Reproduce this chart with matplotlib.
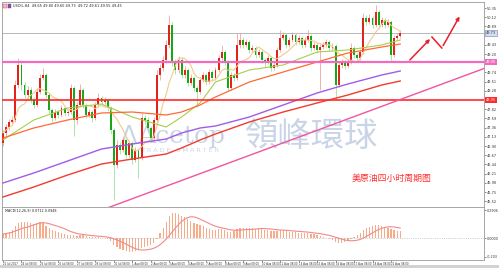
import numpy as np
import pandas as pd
import matplotlib
matplotlib.use("Agg")
import matplotlib.pyplot as plt
from matplotlib.patches import Rectangle

plt.rcParams['font.family'] = ['DejaVu Sans', 'Noto Sans CJK SC']

# USOIL H4 candles (price)
opens = [46.975, 47.225, 47.375, 47.50, 47.55, 48.425, 48.925, 48.425, 48.175, 48.30,
         48.05, 47.925, 48.25, 48.60, 48.675, 48.175, 47.80, 47.60, 47.75, 47.675,
         47.85, 47.725, 47.75, 48.35, 47.55, 47.925, 48.30, 47.925, 47.675, 47.75,
         47.60, 47.925, 48.10, 48.00, 48.05, 47.85, 47.30, 46.425, 46.925, 46.80,
         47.05, 46.675, 46.975, 46.55, 46.80, 46.60, 47.60, 47.55, 47.35, 47.10,
         47.55, 48.675, 48.85, 49.05, 49.425, 49.925, 49.00, 48.80, 49.05, 48.675,
         48.80, 48.475, 48.60, 48.35, 48.25, 48.55, 48.675, 48.50, 48.75, 48.60,
         48.80, 49.10, 49.25, 49.00, 48.35, 48.675, 48.60, 49.425, 49.55, 49.425,
         49.50, 49.30, 49.35, 49.175, 49.25, 49.05, 49.00, 49.10, 48.85, 48.925,
         49.30, 49.60, 49.675, 49.425, 49.55, 49.675, 49.50, 49.60, 49.425, 49.55,
         49.65, 49.35, 49.425, 49.30, 49.375, 49.425, 49.50, 49.35, 49.40, 48.425,
         48.925, 49.00, 48.90, 49.00, 49.35, 49.175, 49.10, 49.25, 50.10, 50.00,
         50.10, 49.925, 50.25, 49.925, 50.05, 49.925, 50.00, 49.175, 49.60, 49.65]
closes = [47.225, 47.375, 47.50, 47.55, 48.425, 48.925, 48.425, 48.175, 48.30, 48.05,
          47.925, 48.25, 48.60, 48.675, 48.175, 47.80, 47.60, 47.75, 47.675, 47.85,
          47.725, 47.75, 48.35, 47.55, 47.925, 48.30, 47.925, 47.675, 47.75, 47.60,
          47.925, 48.10, 48.00, 48.05, 47.85, 47.30, 46.425, 46.925, 46.80, 47.05,
          46.675, 46.975, 46.55, 46.80, 46.60, 47.60, 47.55, 47.35, 47.10, 47.55,
          48.675, 48.85, 49.05, 49.425, 49.925, 49.00, 48.80, 49.05, 48.675, 48.80,
          48.475, 48.60, 48.35, 48.25, 48.55, 48.675, 48.50, 48.75, 48.60, 48.80,
          49.10, 49.25, 49.00, 48.35, 48.675, 48.60, 49.425, 49.55, 49.425, 49.50,
          49.30, 49.35, 49.175, 49.25, 49.05, 49.00, 49.10, 48.85, 48.925, 49.30,
          49.60, 49.675, 49.425, 49.55, 49.675, 49.50, 49.60, 49.425, 49.55, 49.65,
          49.35, 49.425, 49.30, 49.375, 49.425, 49.50, 49.35, 49.40, 48.425, 48.925,
          49.00, 48.90, 49.00, 49.35, 49.175, 49.10, 49.25, 50.10, 50.00, 50.10,
          49.925, 50.25, 49.925, 50.05, 49.925, 50.00, 49.175, 49.60, 49.65, 49.725]
highs = [47.30, 47.45, 47.58, 47.65, 48.55, 49.10, 49.05, 48.50, 48.40, 48.38,
         48.12, 48.35, 48.70, 48.85, 48.72, 48.22, 47.85, 47.82, 47.80, 47.92,
         47.90, 47.82, 48.45, 48.40, 48.00, 48.45, 48.35, 47.98, 47.82, 47.80,
         48.00, 48.22, 48.15, 48.12, 48.10, 47.90, 47.35, 47.05, 47.00, 47.12,
         47.10, 47.05, 47.02, 46.88, 46.85, 47.72, 47.68, 47.62, 47.40, 47.62,
         48.80, 48.95, 49.15, 49.55, 50.175, 50.00, 49.08, 49.15, 49.12, 48.90,
         48.85, 48.70, 48.65, 48.40, 48.62, 48.75, 48.72, 48.82, 48.80, 48.88,
         49.18, 49.425, 49.30, 49.05, 48.75, 48.72, 49.72, 49.72, 49.62, 49.58,
         49.55, 49.42, 49.40, 49.32, 49.30, 49.10, 49.18, 49.15, 49.00, 49.38,
         49.80, 49.75, 49.72, 49.62, 49.75, 49.72, 49.68, 49.65, 49.62, 49.80,
         49.70, 49.50, 49.48, 49.45, 49.50, 49.58, 49.55, 49.48, 49.45, 49.00,
         49.08, 49.05, 49.08, 49.48, 49.40, 49.22, 49.32, 50.225, 50.18, 50.20,
         50.15, 50.425, 50.30, 50.12, 50.10, 50.08, 50.05, 49.68, 49.72, 49.80]
lows = [46.90, 47.15, 47.30, 47.42, 47.50, 48.35, 48.30, 48.10, 48.10, 47.98,
        47.85, 47.88, 48.20, 48.55, 48.10, 47.72, 47.50, 47.55, 47.60, 47.62,
        47.65, 47.65, 47.70, 47.15, 47.45, 47.88, 47.85, 47.60, 47.62, 47.50,
        47.55, 47.88, 47.95, 47.95, 47.78, 47.20, 45.55, 46.35, 46.70, 46.75,
        46.60, 46.62, 46.45, 46.50, 46.10, 46.55, 47.45, 47.28, 47.02, 47.05,
        47.50, 48.55, 48.78, 48.98, 49.35, 48.90, 48.70, 48.72, 48.60, 48.60,
        48.40, 48.42, 48.28, 47.875, 48.20, 48.50, 48.42, 48.45, 48.52, 48.55,
        48.75, 49.05, 48.92, 48.28, 48.30, 48.52, 48.55, 49.35, 49.35, 49.38,
        49.22, 49.25, 49.10, 49.12, 48.98, 48.88, 48.95, 48.78, 48.80, 48.88,
        49.25, 49.55, 49.35, 49.38, 49.50, 49.42, 49.45, 49.35, 49.38, 49.50,
        49.28, 49.30, 49.22, 48.30, 49.32, 49.38, 49.28, 49.30, 48.05, 48.38,
        48.85, 48.82, 48.85, 48.95, 49.10, 49.02, 49.05, 49.20, 49.92, 49.95,
        49.85, 49.88, 49.85, 49.88, 49.85, 49.88, 49.00, 49.12, 49.55, 49.60]

# moving averages read at a few bars
ma_bars = [0, 10, 21, 32, 42, 53, 58, 64, 69, 80, 91, 102, 112, 123, 129]
ma_green = [47.05, 47.55, 47.85, 47.95, 47.625, 47.375, 47.625, 47.975, 48.50, 48.80,
            48.925, 49.25, 49.30, 49.425, 49.55]
ma_orange = [47.10, 47.35, 47.55, 47.725, 47.75, 47.675, 47.75, 47.925, 48.125, 48.50,
             48.75, 49.00, 49.225, 49.375, 49.45]
ma_purple = [45.975, 46.225, 46.525, 46.825, 46.95, 47.075, 47.225, 47.35, 47.40, 47.625,
             47.925, 48.225, 48.45, 48.675, 48.775]
ma_red = [45.625, 45.875, 46.175, 46.45, 46.575, 46.70, 46.85, 47.05, 47.20, 47.50,
          47.75, 47.975, 48.175, 48.425, 48.525]

# MACD main (histogram)
macd_hist = [0.04, 0.05, 0.06, 0.08,
             0.12, 0.15, 0.16, 0.16, 0.16, 0.15, 0.14, 0.15, 0.16, 0.15,
             0.12, 0.10, 0.08, 0.07, 0.06, 0.05, 0.04, 0.03, 0.03, 0.03,
             0.02, 0.03, 0.03, 0.02, 0.01, 0.01, 0.01, 0.01, 0.00, 0.00,
             -0.01, -0.03, -0.07, -0.09, -0.11, -0.12, -0.13, -0.14, -0.14, -0.13,
             -0.12, -0.10, -0.09, -0.08, -0.07, -0.05, -0.01, 0.05, 0.10, 0.16,
             0.22, 0.25, 0.25, 0.24, 0.22, 0.21, 0.19, 0.17, 0.15, 0.14,
             0.13, 0.12, 0.10, 0.09, 0.08, 0.08, 0.09, 0.09, 0.08, 0.06,
             0.06, 0.07, 0.09, 0.10, 0.10, 0.10, 0.10, 0.10, 0.09, 0.09,
             0.09, 0.08, 0.08, 0.07, 0.07, 0.07, 0.08, 0.08, 0.07, 0.06,
             0.06, 0.06, 0.05, 0.05, 0.05, 0.05, 0.04, 0.04, 0.03, 0.02,
             0.01, 0.00, -0.01, -0.02, -0.04, -0.05, -0.05, -0.04, -0.03, -0.01,
             0.01, 0.03, 0.05, 0.08, 0.10, 0.11, 0.12, 0.13, 0.13, 0.12,
             0.11, 0.10, 0.09, 0.08, 0.07, 0.07]

level_pink = 49.00
level_red = 48.05
trend_bars = [30, 157]
trend_prices = [45.24, 48.86]
arrow_bars = [131.5, 139.3, 142.5, 148.7]
arrow_prices = [49.00, 49.625, 49.35, 50.20]

date_labels = ['21 Jul 2017', '24 Jul 08:00', '25 Jul 08:00', '26 Jul 08:00', '27 Jul 08:00',
               '28 Jul 08:00', '31 Jul 08:00', '1 Aug 08:00', '2 Aug 08:00', '3 Aug 08:00',
               '4 Aug 08:00', '7 Aug 08:00', '8 Aug 08:00', '9 Aug 08:00', '10 Aug 08:00',
               '11 Aug 08:00', '14 Aug 08:00', '15 Aug 08:00', '16 Aug 08:00', '17 Aug 08:00',
               '18 Aug 08:00', '21 Aug 08:00']

W, H = 499, 268
fig = plt.figure(figsize=(W / 100, H / 100), dpi=100)
ax = fig.add_axes([2 / W, 1 - 207 / H, 482 / W, 205 / H])
axm = fig.add_axes([2 / W, 1 - 260 / H, 482 / W, 53 / H])

x = np.arange(len(closes))
o = np.array(opens)
c = np.array(closes)
h = np.array(highs)
l = np.array(lows)
up = c >= o
body_lo = np.minimum(o, c)
body_h = np.maximum(np.abs(c - o), 0.025)

ax.vlines(x[up], l[up], h[up], color='#f3a3a3', lw=0.6, zorder=2)
ax.vlines(x[~up], l[~up], h[~up], color='#9be39b', lw=0.6, zorder=2)
ax.bar(x[up], body_h[up], bottom=body_lo[up], width=0.62, color='#e0241c', lw=0, zorder=3)
ax.bar(x[~up], body_h[~up], bottom=body_lo[~up], width=0.62, color='#17a817', lw=0, zorder=3)

tan = pd.Series(closes).rolling(8, min_periods=1).mean()
ax.plot(x, tan, color='#f4c98f', lw=0.8, zorder=4)
ax.plot(ma_bars, ma_green, color='#a9cd4c', lw=0.8, zorder=4)
ax.plot(ma_bars, ma_orange, color='#ff6a33', lw=0.9, zorder=4)
ax.plot(ma_bars, ma_purple, color='#a05ce8', lw=1.0, zorder=4)
ax.plot(ma_bars, ma_red, color='#f23a2e', lw=1.0, zorder=4)

ax.axhline(closes[-1], color='#b8b8b8', lw=0.7, zorder=1)
ax.axhline(level_pink, color='#f26bbf', lw=1.6, zorder=5)
ax.axhline(level_red, color='#ff2a2a', lw=1.2, zorder=5)
ax.plot(trend_bars, trend_prices, color='#f0559f', lw=1.0, zorder=5)

# hand drawn arrows
ax.annotate('', xy=(arrow_bars[1], arrow_prices[1]), xytext=(arrow_bars[0], arrow_prices[0]),
            arrowprops=dict(arrowstyle='-|>', color='#e8202a', lw=1.1, mutation_scale=5), zorder=6)
ax.plot(arrow_bars[1:3], arrow_prices[1:3], color='#e8202a', lw=1.1, zorder=6)
ax.annotate('', xy=(arrow_bars[3], arrow_prices[3]), xytext=(arrow_bars[2], arrow_prices[2]),
            arrowprops=dict(arrowstyle='-|>', color='#e8202a', lw=1.1, mutation_scale=5), zorder=6)

ax.set_xlim(-0.32, 156.2)
ax.set_ylim(45.375, 50.50)
ax.set_xticks([])
ax.yaxis.tick_right()
levels = [closes[-1], level_pink, level_red]
yt = [t for t in np.arange(45.52, 50.5, 0.23) if min(abs(t - lv) for lv in levels) > 0.13]
ax.set_yticks(yt)
ax.yaxis.set_major_formatter(plt.FormatStrFormatter('%.2f'))
ax.tick_params(axis='y', labelsize=2.5, length=1.2, width=0.4, pad=0.8, colors='#333333')
for sp in ax.spines.values():
    sp.set_color('#9a9a9a')
    sp.set_linewidth(0.6)

ytr = ax.get_yaxis_transform()
ax.text(1.004, closes[-1], '%.2f' % closes[-1], transform=ytr, fontsize=2.5, va='center', ha='left',
        color='#223355', bbox=dict(boxstyle='square,pad=0.2', fc='#d5deee', ec='#6a80a8', lw=0.4), zorder=7)
ax.text(1.004, level_pink, '%.2f' % level_pink, transform=ytr, fontsize=2.5, va='center', ha='left',
        color='white', bbox=dict(boxstyle='square,pad=0.2', fc='#f26bbf', ec='none'), zorder=7)
ax.text(1.004, level_red, '%.2f' % level_red, transform=ytr, fontsize=2.5, va='center', ha='left',
        color='white', bbox=dict(boxstyle='square,pad=0.2', fc='#ff2a2a', ec='none'), zorder=7)

ax.text(0.022, 0.99, 'USOIL,H4  49.65 49.80 49.60 49.73  49.72 49.61 49.55 49.45',
        transform=ax.transAxes, fontsize=2.5, va='top', color='#222222')
fig.add_artist(Rectangle((3 / W, 1 - 8 / H), 3.5 / W, 3.5 / H, transform=fig.transFigure,
                         fc='#f4b8c8', ec='#c04060', lw=0.3))
fig.add_artist(Rectangle((7.5 / W, 1 - 8 / H), 3.5 / W, 3.5 / H, transform=fig.transFigure,
                         fc='#5060d0', ec='#d03030', lw=0.3))

# watermark
wm = '#c9d5e6'
ax.text(121 / W, 1 - 143 / H, 'Λ', transform=fig.transFigure, fontsize=17, color=wm, zorder=0.5)
ax.text(137 / W, 1 - 143 / H, 'Acetop', transform=fig.transFigure, fontsize=18, color=wm,
        family='DejaVu Serif', zorder=0.5)
ax.text(245 / W, 1 - 136 / H, '領峰環球', transform=fig.transFigure, fontsize=24, color=wm,
        family=['Noto Sans CJK TC', 'DejaVu Sans'], va='center', zorder=0.5)
ax.text(141 / W, 1 - 151 / H, 'T R A D E   S M A R T E R', transform=fig.transFigure, fontsize=4.6,
        color=wm, va='center', zorder=0.5)

ax.text(352 / W, 1 - 178 / H, '美原油四小时周期图', transform=fig.transFigure, fontsize=6.4,
        color='#ff3030', va='center', family=['Noto Sans CJK SC', 'DejaVu Sans'], zorder=7)

# MACD panel
sig = pd.Series(macd_hist).rolling(9, min_periods=1).mean()
axm.bar(x, macd_hist, width=0.4, color='#f7ab88', lw=0)
axm.plot(x, sig, color='#f08a8a', lw=0.8)
axm.axhline(0, color='#a8a8a8', lw=0.5, ls=':')
axm.set_xlim(-0.32, 156.2)
axm.set_ylim(-0.22, 0.31)
axm.yaxis.tick_right()
axm.set_yticks([0.28, 0.0, -0.19])
axm.set_yticklabels(['0.2906', '0.0000', '-0.203'])
axm.tick_params(axis='y', labelsize=2.4, length=1.2, width=0.4, pad=0.6, colors='#333333')
axm.set_xticks(np.arange(0, 6 * len(date_labels), 6))
axm.set_xticklabels(date_labels)
axm.tick_params(axis='x', labelsize=1.9, length=1.2, width=0.4, pad=0.6, colors='#333333')
for lab in axm.get_xticklabels():
    lab.set_ha('left')
for sp in axm.spines.values():
    sp.set_color('#9a9a9a')
    sp.set_linewidth(0.6)
axm.text(0.006, 0.96, 'MACD(12,26,9) 0.0712 0.0948', transform=axm.transAxes, fontsize=2.4,
         va='top', color='#222222')

fig.add_artist(Rectangle((0, 0), 1, 3 / H, transform=fig.transFigure, fc='#d2d2d2', ec='none'))

fig.savefig('out.png', dpi=100)
